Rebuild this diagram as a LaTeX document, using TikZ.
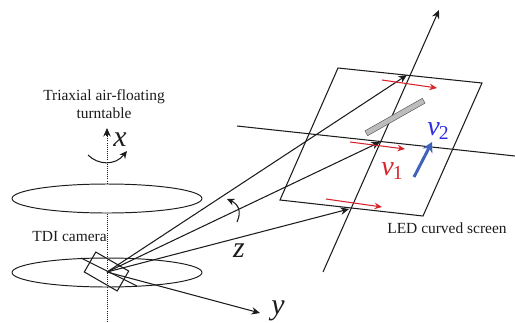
\documentclass[tikz,border=0pt]{standalone}
\usepackage{fontspec}
\setmainfont{Liberation Serif}
\usepackage{amsmath}
\usepackage{xcolor}
\usetikzlibrary{shapes.geometric, arrows.meta, calc}
\definecolor{vred}{HTML}{d8232a}
\definecolor{vblue}{HTML}{3f63b8}
\definecolor{vviolet}{HTML}{2f2fe0}
\definecolor{vgrey}{HTML}{bdbdbd}
\definecolor{vink}{HTML}{1c1c1c}

\begin{document}
\begin{tikzpicture}[
  x=0.02cm, y=-0.02cm,
  >={Stealth[length=1.7mm, width=1.5mm]},
  plate/.style={draw=vink, ellipse, line width=0.55pt, minimum width=3.8cm,
                minimum height=0.58cm, inner sep=0pt},
  axisline/.style={draw=vink, line width=0.6pt},
  dotaxis/.style={draw=vink, line width=0.5pt, dash pattern=on 0.5pt off 0.7pt},
  rot/.style={draw=vink, line width=0.6pt, -{Stealth[length=1.5mm, width=1.4mm]}},
  flow/.style={draw=vred, line width=0.6pt, -{Stealth[length=1.5mm, width=1.3mm]}},
  lbl/.style={font=\fontsize{8.8}{10}\selectfont, text=vink, align=center, inner sep=0pt},
  axlbl/.style={font=\fontsize{17}{17}\selectfont\itshape, text=vink, inner sep=0pt},
  vlbl/.style={font=\fontsize{16}{16}\selectfont\itshape, inner sep=0pt, anchor=base west}
]
\useasboundingbox (0,0) rectangle (515,322);

% ---- Turntable ----
\node[plate] (plateU) at (107,198.5) {};
\node[plate] (plateL) at (107,272.5) {};
\coordinate (axisTop) at (107,128);
\coordinate (axisEnd) at (107,322);

\draw[dotaxis] (axisEnd) -- (plateU.south);
\draw[dotaxis] (plateU.north) -- (107,136);
\draw[axisline, ->] (107,136) -- (axisTop);
\draw[rot] (88,155) .. controls (98,165) and (115,166) .. (127,151);

\node[lbl] (title) at (104,104) {Triaxial air-floating\\turntable};
\node[axlbl] (xlbl) at (120,140) {x};

% ---- Camera ----
\node[draw=vink, line width=0.6pt, rotate=-30, minimum width=0.76cm,
      minimum height=0.46cm, inner sep=0pt] (camera) at (106.5,271.5) {};
\coordinate (cam) at (107,272);
\coordinate (camA) at (81,258);
\coordinate (camB) at (137,286);
\draw[axisline] (camA) -- (camB);
\node[lbl, anchor=east] (camlbl) at (107,237) {TDI camera};

% ---- Screen ----
\coordinate (scrA) at (338,68);
\coordinate (scrB) at (482,83);
\coordinate (scrC) at (423,216);
\coordinate (scrD) at (280,200);
\draw[axisline, line join=miter] (scrA) -- (scrB) -- (scrC) -- (scrD) -- cycle;
\node[lbl] (scrlbl) at (447,228) {LED curved screen};

% ---- Rays ----
\coordinate (rayT) at (407,75);
\coordinate (rayM) at (380,142);
\coordinate (rayB) at (349,209);
\draw[axisline, ->] (cam) -- (rayT);
\draw[axisline, ->] (cam) -- (rayM);
\draw[axisline, ->] (cam) -- (rayB);
\draw[rot] (237,222) .. controls (242,211) and (238,204) .. (227,199);

% ---- Axes ----
\coordinate (zS) at (323,272);
\coordinate (zE) at (439,10);
\coordinate (hS) at (237,126);
\coordinate (hE) at (515,156);
\coordinate (yE) at (260,313);
\draw[axisline, ->] (zS) -- (zE);
\draw[axisline] (hS) -- (hE);
\draw[axisline, ->] (cam) -- (yE);
\node[axlbl] (zlbl) at (239,251) {z};
\node[axlbl] (ylbl) at (278,310.5) {y};

% ---- Flow on the screen ----
\draw[flow] (382,80) -- (437,88);
\draw[flow] (350,142) -- (405,149);
\draw[flow] (326,199) -- (382,207);
\node[draw=vink!70, fill=vgrey, line width=0.3pt, rotate=29.6, minimum width=1.32cm,
      minimum height=0.11cm, inner sep=0pt] (bar) at (395,117) {};
\coordinate (blueS) at (414,177);
\coordinate (blueE) at (432,142);
\draw[draw=vblue, line width=1.7pt, -{Stealth[length=2mm, width=2.2mm]}] (blueS) -- (blueE);
\node[vlbl, text=vred] (vone) at (381,175) {v\textsubscript{\kern-0.5pt\upshape 1}};
\node[vlbl, text=vviolet] (vtwo) at (427,135) {v\textsubscript{\kern-0.5pt\upshape 2}};

\end{tikzpicture}
\end{document}
